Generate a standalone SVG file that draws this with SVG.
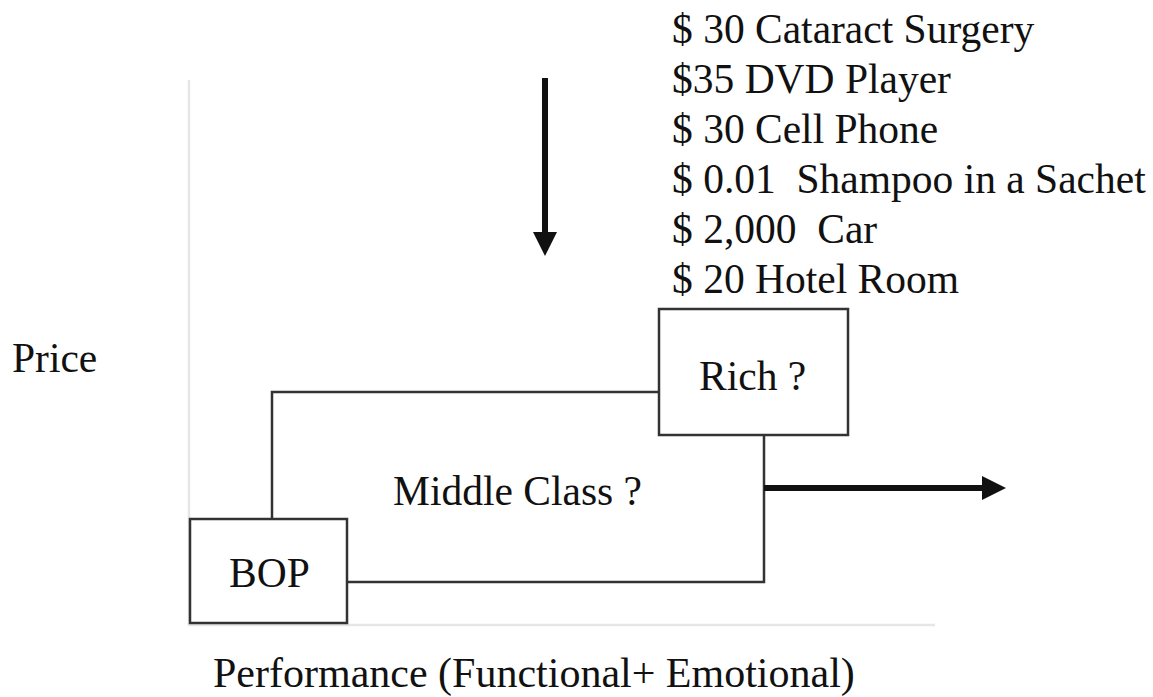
<svg xmlns="http://www.w3.org/2000/svg" width="1153" height="697" viewBox="0 0 1153 697">
<style>
text{font-family:"Liberation Serif","Times New Roman",serif;font-size:41.5px;fill:#111}
.box{fill:#fff;stroke:#333;stroke-width:2.5}
.ln{fill:none;stroke:#333;stroke-width:2.5}
.axis{fill:none;stroke:#e6e6e6;stroke-width:2.5}
.arr{fill:none;stroke:#111;stroke-width:6}
</style>
<defs>
<marker id="ah" viewBox="0 0 10 10" refX="0" refY="5" markerWidth="4" markerHeight="4" orient="auto" markerUnits="strokeWidth">
<path d="M0,0 L10,5 L0,10 Z" fill="#111"/>
</marker>
</defs>
<rect width="1153" height="697" fill="#fff"/>
<g id="axes">
<path class="axis" d="M189,80 V625 H935"/>
</g>
<g id="connectors">
<path class="ln" d="M272,519 V392 H659"/>
<path class="ln" d="M764,435 V582 H347"/>
<path class="arr" d="M545,78 V232" marker-end="url(#ah)"/>
<path class="arr" d="M764,488 H982" marker-end="url(#ah)"/>
</g>
<g id="bop">
<rect class="box" x="190" y="519" width="157" height="104"/>
<text x="229" y="587">BOP</text>
</g>
<g id="rich">
<rect class="box" x="659" y="309" width="189" height="126"/>
<text x="699" y="390">Rich ?</text>
</g>
<g id="middle">
<text x="393" y="505">Middle Class ?</text>
</g>
<g id="labels">
<text x="12" y="372">Price</text>
<text x="213" y="687" style="font-size:42px">Performance (Functional+ Emotional)</text>
</g>
<g id="prices">
<text x="672" y="43">$ 30 Cataract Surgery</text>
<text x="672" y="93">$35 DVD Player</text>
<text x="672" y="143">$ 30 Cell Phone</text>
<text x="672" y="193" xml:space="preserve">$ 0.01  Shampoo in a Sachet</text>
<text x="672" y="243" xml:space="preserve">$ 2,000  Car</text>
<text x="672" y="293">$ 20 Hotel Room</text>
</g>
</svg>
